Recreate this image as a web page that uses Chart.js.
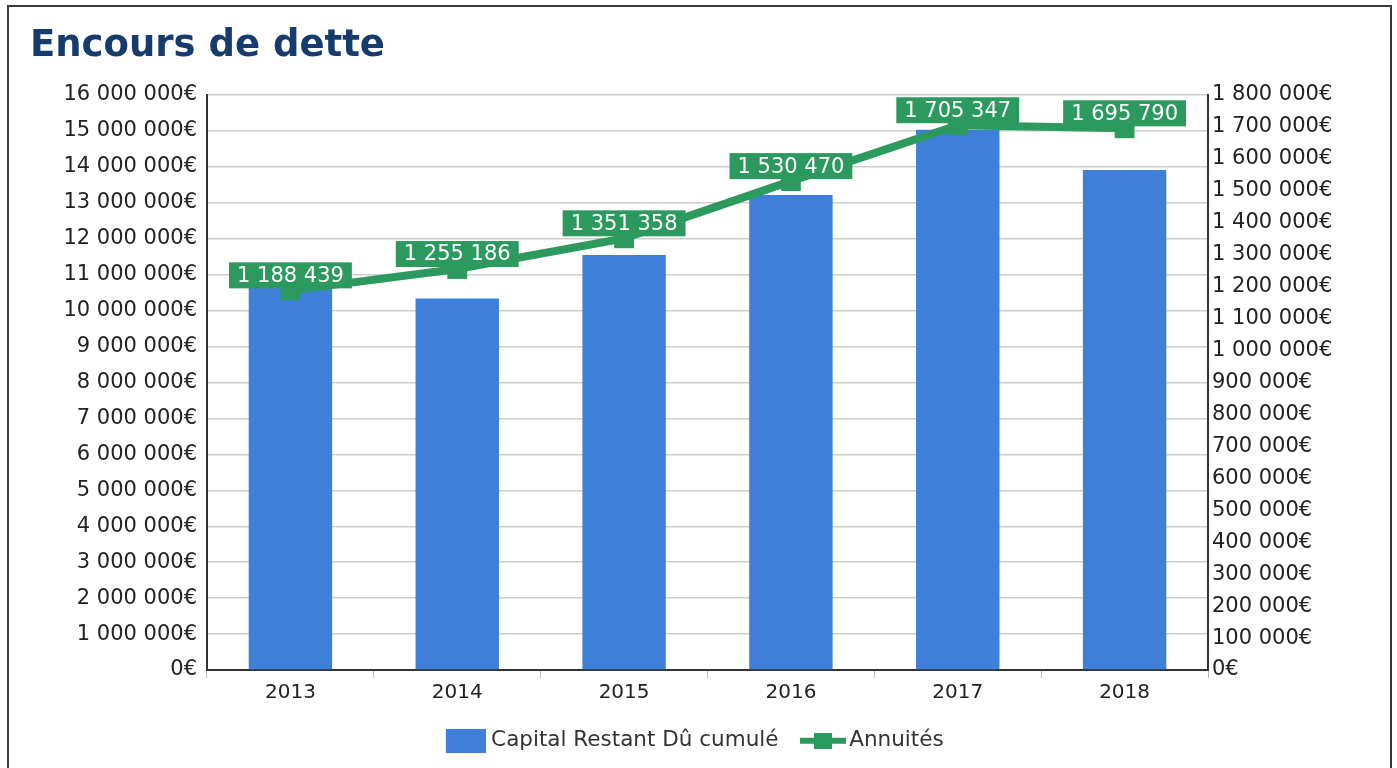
<!DOCTYPE html>
<html>
<head>
<meta charset="utf-8">
<title>Encours de dette</title>
<script src="https://cdn.jsdelivr.net/npm/chart.js@4/dist/chart.umd.min.js"></script>
<style>
  html, body { margin: 0; padding: 0; background: #fff; overflow: hidden; }
  #frame { position: absolute; left: 7px; top: 5px; width: 1381px; height: 800px; border: 2px solid #3a3a3a; }
  #wrap { position: absolute; left: 0; top: 0; width: 1397px; height: 768px; }
</style>
</head>
<body>
<div id="frame"></div>
<div id="wrap"><canvas id="chart"></canvas></div>
<script>
const years = ['2013', '2014', '2015', '2016', '2017', '2018'];
const capitalRestantDu = [10750000, 10340000, 11550000, 13220000, 15030000, 13910000];
const annuites = [1188439, 1255186, 1351358, 1530470, 1705347, 1695790];

const capitalMax = 16000000;
const capitalStep = 1000000;
const annuitesMax = 1800000;
const annuitesStep = 100000;

const BLUE = '#3e80d9';
const GREEN = '#2c9a5e';
const FONT = '"DejaVu Sans", Verdana, sans-serif';

Chart.defaults.font.family = FONT;
Chart.defaults.color = '#222';

// 1 188 439
function spaced(value) {
  return String(Math.round(value)).replace(/\B(?=(\d{3})+(?!\d))/g, ' ');
}

function euros(value) {
  return spaced(value) + '€';
}

// Small canvases used as legend icons (drawn flush right so the text sits close)
function barIcon() {
  const c = document.createElement('canvas');
  c.width = 51; c.height = 24;
  const g = c.getContext('2d');
  g.fillStyle = BLUE;
  g.fillRect(11, 0, 40, 24);
  return c;
}

function lineIcon() {
  const c = document.createElement('canvas');
  c.width = 55; c.height = 16;
  const g = c.getContext('2d');
  g.fillStyle = GREEN;
  g.fillRect(9, 5, 46, 6);
  g.fillRect(23, 0, 18, 16);
  return c;
}

const legendIcons = [barIcon(), lineIcon()];

// Green boxes with the annuity amount above each point
const valueLabels = {
  id: 'valueLabels',
  afterDatasetsDraw(chart) {
    const meta = chart.getDatasetMeta(1);
    const ctx = chart.ctx;
    ctx.save();
    ctx.font = '21px ' + FONT;
    ctx.textAlign = 'center';
    ctx.textBaseline = 'middle';
    meta.data.forEach((pt, i) => {
      const text = spaced(annuites[i]);
      const w = ctx.measureText(text).width + 16;
      const cy = pt.y - 15;
      ctx.fillStyle = GREEN;
      ctx.fillRect(pt.x - w / 2, cy - 13, w, 26);
      ctx.fillStyle = '#fff';
      ctx.fillText(text, pt.x, cy + 1);
    });
    ctx.restore();
  },
};

new Chart(document.getElementById('chart'), {
  type: 'bar',
  data: {
    labels: years,
    datasets: [
      {
        type: 'bar',
        label: 'Capital Restant Dû cumulé',
        data: capitalRestantDu,
        backgroundColor: BLUE,
        yAxisID: 'y',
        barPercentage: 0.5,
        categoryPercentage: 1,
        order: 1,
      },
      {
        type: 'line',
        label: 'Annuités',
        data: annuites,
        borderColor: GREEN,
        backgroundColor: GREEN,
        borderWidth: 8,
        pointStyle: 'rect',
        pointRadius: 14,
        pointBorderWidth: 0,
        tension: 0,
        yAxisID: 'y1',
        order: 0,
      },
    ],
  },
  options: {
    responsive: true,
    maintainAspectRatio: false,
    animation: false,
    layout: { padding: { left: 30, right: 43, top: 0, bottom: 6.5 } },
    plugins: {
      title: {
        display: true,
        text: 'Encours de dette',
        align: 'start',
        color: '#163b6d',
        font: { size: 37, weight: 'bold' },
        padding: { top: 24, bottom: 26.6 },
      },
      legend: {
        position: 'bottom',
        labels: {
          usePointStyle: true,
          pointStyleWidth: 40,
          padding: 20,
          color: '#333',
          font: { size: 21.5 },
          generateLabels: (chart) =>
            chart.data.datasets.map((ds, i) => ({
              text: ds.label,
              pointStyle: legendIcons[i],
              fillStyle: 'transparent',
              strokeStyle: 'transparent',
              lineWidth: 0,
              hidden: false,
              datasetIndex: i,
              fontColor: '#333',
            })),
        },
      },
      tooltip: { enabled: false },
    },
    scales: {
      x: {
        grid: { drawOnChartArea: false, tickLength: 8, color: '#bbb' },
        border: { color: '#333', width: 2 },
        ticks: { padding: 3, font: { size: 20 } },
        afterFit: (scale) => { scale.height = 40; },
      },
      y: {
        position: 'left',
        min: 0,
        max: capitalMax,
        grid: { color: '#cdcdcd', lineWidth: 1.5, drawTicks: false },
        border: { color: '#333', width: 2 },
        ticks: { stepSize: capitalStep, padding: 10, font: { size: 21 }, callback: euros },
        afterFit: (scale) => { scale.width = 177; },
      },
      y1: {
        position: 'right',
        min: 0,
        max: annuitesMax,
        grid: { drawOnChartArea: false, drawTicks: false },
        border: { color: '#333', width: 2 },
        ticks: { stepSize: annuitesStep, padding: 4, font: { size: 21 }, callback: euros },
        afterFit: (scale) => { scale.width = 146; },
      },
    },
  },
  plugins: [valueLabels],
});
</script>
</body>
</html>
